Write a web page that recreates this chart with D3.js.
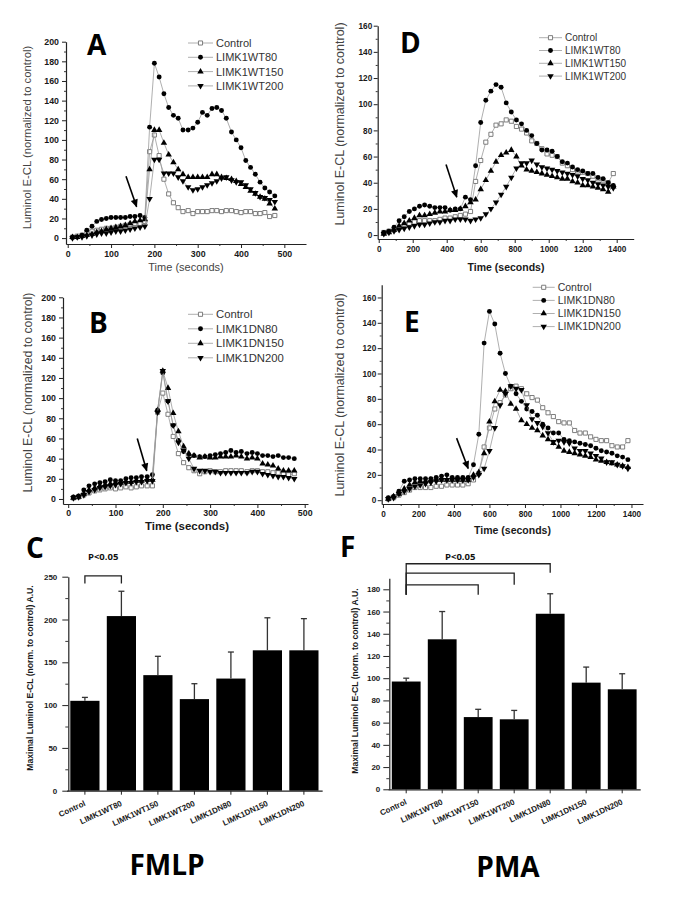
<!DOCTYPE html>
<html>
<head>
<meta charset="utf-8">
<script src="https://cdn.jsdelivr.net/npm/d3@7"></script>
<style>
  body { margin: 0; background: #fff; }
  svg { display: block; }
</style>
</head>
<body>
<script>
const SANS = '"Liberation Sans", Arial, sans-serif';
const TITLE_FONT = '"Open Sans", "Noto Sans", sans-serif';
const AXIS_COLOR = '#222';
const LINE_GRAY = '#9a9a9a';

// sample times (seconds)
const timesFast = [11, 22, 33, 44, 56, 67, 78, 89, 100, 111, 122, 133, 144, 155, 167, 178, 189, 200, 211, 222,
  233, 244, 255, 266, 278, 289, 300, 311, 322, 333, 344, 355, 366, 378, 389, 400, 411, 422, 433, 444, 455, 466, 478];
const timesSlow = [30, 60, 90, 120, 150, 180, 210, 240, 270, 300, 330, 360, 390, 420, 450, 480, 510, 540, 570, 600,
  630, 660, 690, 720, 750, 780, 810, 840, 870, 900, 930, 960, 990, 1020, 1050, 1080, 1110, 1140, 1170, 1200,
  1230, 1260, 1290, 1320, 1350, 1380];

// A: FMLP, LIMK1 WT
const fmlpWTControl = [1, 2, 3, 5, 7, 8, 9, 10, 10, 11, 12, 13, 14, 15, 15, 17, 88, 105, 84, 60, 45, 36, 31, 27, 28, 25,
  27, 27, 27, 28, 28, 27, 28, 28, 27, 26, 27, 27, 25, 25, 26, 22, 23];
const fmlpWT80 = [1, 1, 3, 8, 12, 17, 19, 20, 21, 21, 21, 21, 22, 22, 23, 21, 113, 178, 164, 147, 133, 125, 122, 110, 110, 112,
  118, 128, 125, 132, 133, 130, 122, 108, 100, 92, 79, 72, 65, 57, 51, 47, 43];
const fmlpWT150 = [1, 1, 2, 3, 4, 6, 7, 9, 10, 11, 12, 13, 15, 17, 18, 19, 70, 110, 110, 97, 85, 77, 70, 65, 62, 62,
  62, 62, 62, 65, 65, 62, 61, 60, 58, 55, 52, 48, 45, 42, 40, 35, 30];
const fmlpWT200 = [0, 1, 1, 2, 3, 4, 5, 5, 6, 7, 7, 8, 9, 10, 11, 12, 40, 80, 80, 66, 66, 66, 62, 58, 52, 49,
  50, 52, 54, 56, 58, 61, 62, 59, 57, 57, 54, 50, 46, 42, 41, 39, 37];

// B: FMLP, LIMK1 DN
const fmlpDNControl = [1, 2, 4, 6, 8, 9, 10, 11, 10, 11, 12, 11, 12, 13, 13, 13, 86, 105, 84, 62, 45, 36, 31, 28, 25, 27,
  28, 27, 27, 28, 28, 28, 28, 27, 28, 28, 27, 27, 26, 26, 25, 24, 25];
const fmlpDN80 = [2, 3, 9, 13, 15, 16, 17, 19, 18, 18, 20, 21, 21, 22, 22, 24, 88, 125, 97, 73, 58, 47, 44, 43, 42, 42,
  43, 44, 45, 46, 48, 46, 47, 45, 46, 45, 43, 43, 42, 43, 41, 41, 40];
const fmlpDN150 = [1, 2, 5, 9, 11, 13, 14, 15, 16, 16, 17, 17, 18, 18, 19, 19, 88, 127, 110, 85, 67, 52, 45, 43, 41, 42,
  41, 41, 42, 42, 42, 43, 42, 40, 41, 40, 35, 34, 33, 30, 28, 28, 28];
const fmlpDN200 = [1, 2, 4, 7, 9, 11, 12, 13, 14, 15, 16, 16, 17, 17, 18, 18, 86, 127, 97, 73, 56, 48, 40, 30, 28, 28,
  27, 27, 26, 26, 26, 26, 26, 26, 27, 27, 25, 24, 23, 22, 22, 21, 20];

// D: PMA, LIMK1 WT
const pmaWTControl = [2, 3, 4, 6, 8, 9, 10, 11, 11, 11, 11, 12, 13, 13, 14, 15, 16, 18, 41, 57, 71, 77, 84, 85, 88, 87,
  83, 81, 78, 72, 70, 66, 62, 61, 60, 55, 53, 50, 49, 48, 47, 45, 43, 42, 40, 47];
const pmaWT80 = [2, 3, 6, 11, 14, 18, 20, 22, 23, 22, 21, 21, 21, 19, 20, 20, 29, 27, 53, 86, 103, 110, 115, 113, 101, 94,
  88, 85, 80, 76, 70, 65, 65, 64, 60, 56, 55, 52, 50, 49, 47, 47, 44, 43, 40, 38];
const pmaWT150 = [1, 2, 4, 7, 9, 11, 13, 15, 15, 16, 17, 18, 18, 19, 19, 20, 22, 25, 27, 35, 42, 49, 56, 61, 63, 65,
  60, 53, 50, 49, 48, 47, 46, 45, 44, 43, 43, 41, 40, 38, 38, 37, 36, 35, 33, 37];
const pmaWT200 = [1, 2, 3, 4, 5, 6, 7, 8, 8, 9, 10, 10, 11, 11, 12, 12, 12, 11, 12, 13, 16, 20, 25, 31, 37, 44,
  51, 55, 55, 57, 54, 52, 51, 50, 49, 48, 47, 46, 45, 43, 42, 40, 39, 38, 37, 36];

// E: PMA, LIMK1 DN
const pmaDNControl = [1, 2, 4, 6, 8, 10, 10, 10, 10, 11, 11, 12, 12, 12, 12, 13, 16, 21, 42, 57, 72, 77, 83, 88, 90, 88,
  84, 81, 79, 73, 69, 66, 62, 61, 61, 55, 53, 53, 50, 48, 47, 47, 43, 42, 42, 47];
const pmaDN80 = [2, 3, 7, 15, 16, 17, 17, 17, 17, 18, 19, 20, 18, 18, 18, 18, 28, 52, 124, 149, 139, 116, 100, 90, 84, 78,
  72, 70, 67, 60, 57, 53, 53, 48, 47, 46, 45, 44, 43, 41, 39, 38, 37, 35, 34, 32];
const pmaDN150 = [1, 3, 5, 9, 12, 14, 15, 15, 16, 16, 16, 16, 16, 16, 16, 16, 20, 22, 37, 62, 78, 87, 86, 76, 72, 63,
  60, 57, 55, 51, 48, 45, 42, 39, 38, 37, 36, 35, 34, 32, 31, 30, 29, 28, 27, 26];
const pmaDN200 = [1, 2, 5, 7, 9, 11, 12, 13, 14, 15, 16, 16, 16, 16, 16, 16, 18, 20, 25, 39, 57, 75, 84, 90, 88, 87,
  75, 64, 61, 58, 53, 46, 47, 46, 45, 41, 39, 39, 37, 35, 33, 30, 30, 28, 27, 25];

const wtLabels = ['Control', 'LIMK1WT80', 'LIMK1WT150', 'LIMK1WT200'];
const dnLabels = ['Control', 'LIMK1DN80', 'LIMK1DN150', 'LIMK1DN200'];

// C / F: maximal response
const barCategories = ['Control', 'LIMK1WT80', 'LIMK1WT150', 'LIMK1WT200', 'LIMK1DN80', 'LIMK1DN150', 'LIMK1DN200'];
const fmlpMeans = [105, 204, 135, 107, 131, 164, 164];
const fmlpSems = [4, 29, 22, 18, 31, 38, 37];
const pmaMeans = [97, 135, 65, 63, 158, 96, 90];
const pmaSems = [3, 25, 7, 8, 18, 14, 14];

// tick labels
const fastTimeTicks = [0, 100, 200, 300, 400, 500];
const slowTimeTicks = [0, 200, 400, 600, 800, 1000, 1200, 1400];
const signalTicks200 = [0, 20, 40, 60, 80, 100, 120, 140, 160, 180, 200];
const signalTicks160 = [0, 20, 40, 60, 80, 100, 120, 140, 160];
const fmlpTicks = [0, 50, 100, 150, 200, 250];
const pmaTicks = [0, 20, 40, 60, 80, 100, 120, 140, 160, 180];

const svg = d3.select('body').append('svg').attr('width', 685).attr('height', 919);

svg.append('defs').append('marker')
  .attr('id', 'arrowhead')
  .attr('viewBox', '0 0 10 10')
  .attr('refX', 9)
  .attr('refY', 5)
  .attr('markerWidth', 6)
  .attr('markerHeight', 5)
  .attr('orient', 'auto')
  .append('path')
  .attr('d', 'M0,0.5 L10,5 L0,9.5 Z')
  .attr('fill', '#000');

const seriesStyle = [
  { symbol: d3.symbolSquare, size: 17, fill: '#fff', stroke: '#707070', rotate: 0 },
  { symbol: d3.symbolCircle, size: 19, fill: '#000', stroke: 'none', rotate: 0 },
  { symbol: d3.symbolTriangle, size: 18, fill: '#000', stroke: 'none', rotate: 0 },
  { symbol: d3.symbolTriangle, size: 18, fill: '#000', stroke: 'none', rotate: 180 }
];

function midpoints(ticks) {
  return d3.pairs(ticks, (a, b) => (a + b) / 2);
}

function styleAxis(sel, fontSize) {
  sel.attr('font-family', SANS).attr('font-size', fontSize).attr('font-weight', 'bold');
  sel.select('.domain').attr('stroke', AXIS_COLOR).attr('stroke-width', 1.2);
  sel.selectAll('.tick line').attr('stroke', AXIS_COLOR).attr('stroke-width', 1);
  sel.selectAll('.tick text').attr('fill', '#1a1a1a');
}

function minorTicks(g, axis, transform) {
  const m = g.append('g').attr('transform', transform).call(axis);
  m.select('.domain').remove();
  m.selectAll('.tick line').attr('stroke', AXIS_COLOR).attr('stroke-width', 0.9);
}

function drawSymbol(g, style, px, py) {
  g.append('path')
    .attr('d', d3.symbol().type(style.symbol).size(style.size)())
    .attr('transform', `translate(${px},${py}) rotate(${style.rotate})`)
    .attr('fill', style.fill)
    .attr('stroke', style.stroke)
    .attr('stroke-width', 0.9);
}

function timePanel(cfg) {
  const x = d3.scaleLinear().domain(cfg.xDomain).range(cfg.xRange);
  const y = d3.scaleLinear().domain(cfg.yDomain).range(cfg.yRange);
  const g = svg.append('g');

  const yAxis = d3.axisLeft(y).tickValues(cfg.yTicks).tickSize(4).tickSizeOuter(0).tickPadding(cfg.yPad);
  g.append('g').attr('transform', `translate(${cfg.xRange[0]},0)`).call(yAxis).call(styleAxis, cfg.tickFont);
  minorTicks(g, d3.axisLeft(y).tickValues(midpoints(cfg.yTicks)).tickSize(2).tickFormat(''),
    `translate(${cfg.xRange[0]},0)`);

  const xAxis = d3.axisBottom(x)
    .tickValues(cfg.xTicks)
    .tickFormat(d3.format('d'))
    .tickSize(4)
    .tickSizeOuter(0)
    .tickPadding(cfg.xPad);
  g.append('g').attr('transform', `translate(0,${cfg.yRange[0]})`).call(xAxis).call(styleAxis, cfg.tickFont);
  minorTicks(g, d3.axisBottom(x).tickValues(midpoints(cfg.xTicks)).tickSize(2).tickFormat(''),
    `translate(0,${cfg.yRange[0]})`);

  const line = d3.line()
    .x((d, i) => x(cfg.times[i]))
    .y(d => y(d));

  cfg.series.forEach((values, k) => {
    const style = seriesStyle[k];
    g.append('path')
      .attr('d', line(values))
      .attr('fill', 'none')
      .attr('stroke', LINE_GRAY)
      .attr('stroke-width', 0.8);

    g.selectAll(null)
      .data(values)
      .enter()
      .append('path')
      .attr('d', d3.symbol().type(style.symbol).size(style.size)())
      .attr('transform', (d, i) => `translate(${x(cfg.times[i])},${y(d)}) rotate(${style.rotate})`)
      .attr('fill', style.fill)
      .attr('stroke', style.stroke)
      .attr('stroke-width', 0.9);
  });

  // legend
  const lg = cfg.legend;
  cfg.labels.forEach((label, k) => {
    const ly = lg.y + k * lg.dy;
    g.append('line')
      .attr('x1', lg.x).attr('x2', lg.x + lg.len)
      .attr('y1', ly).attr('y2', ly)
      .attr('stroke', LINE_GRAY).attr('stroke-width', 0.8);
    drawSymbol(g, seriesStyle[k], lg.x + lg.len / 2, ly);
    g.append('text')
      .attr('x', lg.x + lg.len + 3)
      .attr('y', ly)
      .attr('dy', '0.36em')
      .attr('font-family', SANS)
      .attr('font-size', lg.size)
      .attr('fill', '#333')
      .text(label);
  });

  // stimulus arrow
  const [a0, a1] = cfg.arrow;
  g.append('line')
    .attr('x1', x(a0[0])).attr('y1', y(a0[1]))
    .attr('x2', x(a1[0])).attr('y2', y(a1[1]))
    .attr('stroke', '#000')
    .attr('stroke-width', 1.6)
    .attr('marker-end', 'url(#arrowhead)');

  g.append('text')
    .attr('x', cfg.xTitle.x)
    .attr('y', cfg.xTitle.y)
    .attr('text-anchor', 'middle')
    .attr('font-family', SANS)
    .attr('font-size', cfg.xTitle.size)
    .attr('font-weight', cfg.xTitle.bold ? 'bold' : 'normal')
    .attr('fill', cfg.xTitle.bold ? '#1a1a1a' : '#444')
    .text('Time (seconds)');

  g.append('text')
    .attr('transform', `translate(${cfg.yTitle.x},${cfg.yTitle.y}) rotate(-90)`)
    .attr('text-anchor', 'middle')
    .attr('dy', '0.35em')
    .attr('font-family', SANS)
    .attr('font-size', cfg.yTitle.size)
    .attr('fill', '#444')
    .text('Luminol E-CL (normalized to control)');

  g.append('text')
    .attr('x', cfg.letter.x)
    .attr('y', cfg.letter.y)
    .attr('font-family', TITLE_FONT)
    .attr('font-weight', 'bold')
    .attr('font-size', 28)
    .attr('fill', '#000')
    .text(cfg.letter.text);
}

function barPanel(cfg) {
  const x = d3.scaleBand()
    .domain(barCategories)
    .range(cfg.xRange)
    .paddingInner(0.2)
    .paddingOuter(0.1);
  const y = d3.scaleLinear().domain(cfg.yDomain).range(cfg.yRange);
  const g = svg.append('g');
  const bw = x.bandwidth();

  g.selectAll('.bar')
    .data(cfg.means)
    .enter()
    .append('rect')
    .attr('class', 'bar')
    .attr('x', (d, i) => x(barCategories[i]))
    .attr('y', d => y(d))
    .attr('width', bw)
    .attr('height', d => y(0) - y(d))
    .attr('fill', '#000');

  cfg.means.forEach((m, i) => {
    const cx = x(barCategories[i]) + bw / 2;
    const top = y(m + cfg.sems[i]);
    g.append('line')
      .attr('x1', cx).attr('x2', cx)
      .attr('y1', y(m)).attr('y2', top)
      .attr('stroke', '#333').attr('stroke-width', 1.3);
    g.append('line')
      .attr('x1', cx - 3).attr('x2', cx + 3)
      .attr('y1', top).attr('y2', top)
      .attr('stroke', '#333').attr('stroke-width', 1.3);
  });

  const yAxis = d3.axisLeft(y).tickValues(cfg.yTicks).tickSize(6).tickSizeOuter(0).tickPadding(cfg.yPad);
  g.append('g').attr('transform', `translate(${cfg.yAxisX},0)`).call(yAxis).call(styleAxis, 8);
  minorTicks(g, d3.axisLeft(y).tickValues(midpoints(cfg.yTicks)).tickSize(3).tickFormat(''),
    `translate(${cfg.yAxisX},0)`);

  const xAxis = d3.axisBottom(x).tickSize(4).tickSizeOuter(0).tickFormat('');
  g.append('g').attr('transform', `translate(0,${y(0)})`).call(xAxis).call(styleAxis, 8);

  g.selectAll('.cat')
    .data(barCategories)
    .enter()
    .append('text')
    .attr('class', 'cat')
    .attr('transform', d => `translate(${x(d) + bw / 2},${y(0) + 12}) rotate(-25)`)
    .attr('text-anchor', 'end')
    .attr('dy', '0.35em')
    .attr('font-family', SANS)
    .attr('font-size', 8)
    .attr('font-weight', 'bold')
    .attr('fill', '#1a1a1a')
    .text(d => d);

  // significance brackets
  cfg.brackets.forEach(b => {
    const x0 = x(barCategories[b.from]) + bw / 2;
    const x1 = x(barCategories[b.to]) + bw / 2;
    g.append('path')
      .attr('d', `M${x0},${y(b.left)} L${x0},${y(b.top)} L${x1},${y(b.top)} L${x1},${y(b.right)}`)
      .attr('fill', 'none')
      .attr('stroke', '#222')
      .attr('stroke-width', 1.3);
  });

  const pc = (x(barCategories[cfg.pLabel.span[0]]) + x(barCategories[cfg.pLabel.span[1]])) / 2 + bw / 2;
  g.append('text')
    .attr('x', pc)
    .attr('y', cfg.pLabel.y)
    .attr('text-anchor', 'middle')
    .attr('font-family', TITLE_FONT)
    .attr('font-weight', 'bold')
    .attr('font-size', 9.5)
    .attr('fill', '#111')
    .text('P<0.05');

  g.append('text')
    .attr('transform', `translate(${cfg.yTitle.x},${cfg.yTitle.y}) rotate(-90)`)
    .attr('text-anchor', 'middle')
    .attr('dy', '0.35em')
    .attr('font-family', SANS)
    .attr('font-size', 8.6)
    .attr('font-weight', 'bold')
    .attr('fill', '#1a1a1a')
    .text('Maximal Luminol E-CL (norm. to control) A.U.');

  g.append('text')
    .attr('x', cfg.letter.x)
    .attr('y', cfg.letter.y)
    .attr('font-family', TITLE_FONT)
    .attr('font-weight', 'bold')
    .attr('font-size', 28)
    .attr('fill', '#000')
    .text(cfg.letter.text);

  g.append('text')
    .attr('x', cfg.caption.x)
    .attr('y', cfg.caption.y)
    .attr('text-anchor', 'middle')
    .attr('font-family', TITLE_FONT)
    .attr('font-weight', 'bold')
    .attr('font-size', 28)
    .attr('fill', '#000')
    .text(cfg.caption.text);
}

timePanel({
  times: timesFast,
  series: [fmlpWTControl, fmlpWT80, fmlpWT150, fmlpWT200],
  labels: wtLabels,
  xDomain: [-4, 550], xRange: [66, 306],
  yDomain: [-6, 200], yRange: [244, 41.7],
  xTicks: fastTimeTicks, yTicks: signalTicks200,
  tickFont: 8.8, yPad: 3, xPad: 3,
  legend: { x: 188, y: 43, dy: 14.3, len: 25, size: 11 },
  arrow: [[134.5, 63], [159, 32]],
  xTitle: { x: 186, y: 271, size: 11, bold: false },
  yTitle: { x: 27.5, y: 137.5, size: 11.3 },
  letter: { text: 'A', x: 87, y: 55 }
});

timePanel({
  times: timesFast,
  series: [fmlpDNControl, fmlpDN80, fmlpDN150, fmlpDN200],
  labels: dnLabels,
  xDomain: [-11, 507], xRange: [63, 308],
  yDomain: [-5, 200], yRange: [504, 297.3],
  xTicks: fastTimeTicks, yTicks: signalTicks200,
  tickFont: 8.8, yPad: 3, xPad: 2,
  legend: { x: 188, y: 314.3, dy: 14.5, len: 25, size: 11.3 },
  arrow: [[146, 60], [166, 28]],
  xTitle: { x: 187, y: 530, size: 11.5, bold: true },
  yTitle: { x: 27.5, y: 392.5, size: 12.3 },
  letter: { text: 'B', x: 89, y: 333 }
});

timePanel({
  times: timesSlow,
  series: [pmaWTControl, pmaWT80, pmaWT150, pmaWT200],
  labels: wtLabels,
  xDomain: [-6, 1500], xRange: [377.7, 633.7],
  yDomain: [-3, 160], yRange: [239, 25.7],
  xTicks: slowTimeTicks, yTicks: signalTicks160,
  tickFont: 8.2, yPad: 1.5, xPad: 3,
  legend: { x: 539, y: 37.7, dy: 12.8, len: 23, size: 10 },
  arrow: [[396, 54], [459, 29]],
  xTitle: { x: 506, y: 271, size: 10.5, bold: true },
  yTitle: { x: 339.5, y: 124, size: 12.5 },
  letter: { text: 'D', x: 400, y: 53 }
});

timePanel({
  times: timesSlow,
  series: [pmaDNControl, pmaDN80, pmaDN150, pmaDN200],
  labels: dnLabels,
  xDomain: [-7, 1465], xRange: [381.7, 643],
  yDomain: [-3, 170], yRange: [504, 284.8],
  xTicks: slowTimeTicks, yTicks: signalTicks160,
  tickFont: 8.2, yPad: 1.5, xPad: 3,
  legend: { x: 532.7, y: 287.3, dy: 13.1, len: 22, size: 10.5 },
  arrow: [[415, 49], [480, 25]],
  xTitle: { x: 512.5, y: 534, size: 10.5, bold: true },
  yTitle: { x: 339.5, y: 395, size: 12.5 },
  letter: { text: 'E', x: 404, y: 332 }
});

barPanel({
  means: fmlpMeans, sems: fmlpSems,
  xRange: [66.65, 322.15], yAxisX: 68.3,
  yDomain: [0, 250], yRange: [790.7, 576.7],
  yTicks: fmlpTicks, yPad: 5,
  brackets: [{ from: 0, to: 1, top: 251, left: 242, right: 242 }],
  pLabel: { span: [0, 1], y: 560 },
  yTitle: { x: 30, y: 678 },
  letter: { text: 'C', x: 26, y: 558 },
  caption: { text: 'FMLP', x: 167, y: 875 }
});

barPanel({
  means: pmaMeans, sems: pmaSems,
  xRange: [388.2, 640.2], yAxisX: 389.3,
  yDomain: [0, 190], yRange: [789.3, 578.2],
  yTicks: pmaTicks, yPad: 3,
  brackets: [
    { from: 0, to: 4, top: 203, left: 175, right: 195 },
    { from: 0, to: 3, top: 194.5, left: 175, right: 184 },
    { from: 0, to: 2, top: 184, left: 175, right: 175 }
  ],
  pLabel: { span: [0, 3], y: 560 },
  yTitle: { x: 355, y: 681 },
  letter: { text: 'F', x: 340, y: 557 },
  caption: { text: 'PMA', x: 508, y: 877 }
});
</script>
</body>
</html>
